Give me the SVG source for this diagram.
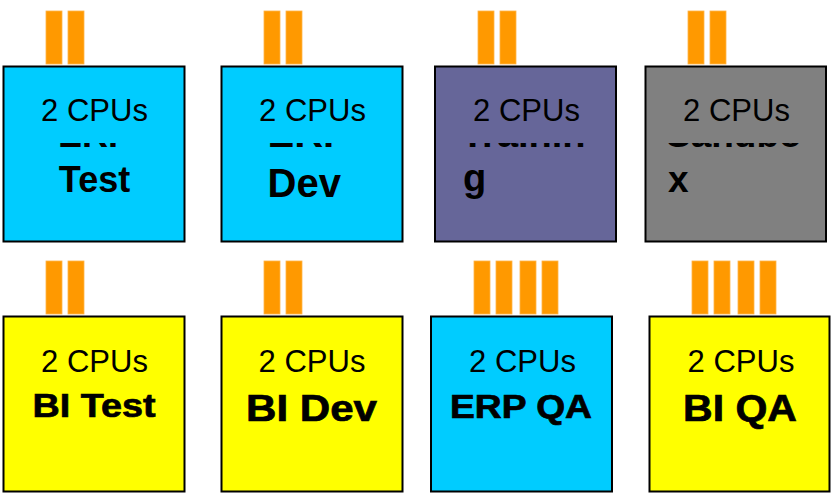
<svg xmlns="http://www.w3.org/2000/svg" width="836" height="498" viewBox="0 0 836 498">
<style>
.box{stroke:#000;stroke-width:2}
.cyan{fill:#00CCFF}
.purple{fill:#666699}
.gray{fill:#808080}
.yellow{fill:#FFFF00}
.cpu{fill:#FF9900;stroke:#FFB347;stroke-width:0.8}
.t{font-family:"Liberation Sans",Arial,sans-serif;font-size:31px;fill:#000;text-anchor:middle}
.b{font-family:"Liberation Sans",Arial,sans-serif;font-weight:bold;fill:#000}
.w{stroke:#000;stroke-width:0.7}
</style>
<defs>
<clipPath id="clipTop"><rect x="0" y="143" width="836" height="100"/></clipPath>
</defs>
<rect width="836" height="498" fill="#fff"/>
<g id="erp-test">
<rect class="cpu" x="46" y="11" width="16" height="53"/><rect class="cpu" x="68" y="11" width="16" height="53"/>
<rect class="box cyan" x="3.5" y="66.5" width="181" height="175"/>
<text class="t" x="94.5" y="121">2 CPUs</text>
<text class="b" x="95" y="147" font-size="36" text-anchor="middle" clip-path="url(#clipTop)">ERP</text>
<text class="b" x="94.5" y="192" font-size="36" text-anchor="middle">Test</text>
</g>
<g id="erp-dev">
<rect class="cpu" x="264" y="11" width="16" height="53"/><rect class="cpu" x="286" y="11" width="16" height="53"/>
<rect class="box cyan" x="221.5" y="66.5" width="181" height="175"/>
<text class="t" x="312.5" y="121">2 CPUs</text>
<text class="b" x="267.5" y="147" font-size="40" clip-path="url(#clipTop)">ERP</text>
<text class="b" x="267.5" y="197" font-size="40">Dev</text>
</g>
<g id="training">
<rect class="cpu" x="478" y="11" width="16" height="53"/><rect class="cpu" x="500" y="11" width="16" height="53"/>
<rect class="box purple" x="435" y="66.5" width="181" height="175"/>
<text class="t" x="526.5" y="121">2 CPUs</text>
<text class="b" x="461" y="147" font-size="38" clip-path="url(#clipTop)">Trainin</text>
<text class="b" x="463" y="191" font-size="38">g</text>
</g>
<g id="sandbox">
<rect class="cpu" x="688" y="11" width="16" height="53"/><rect class="cpu" x="710" y="11" width="16" height="53"/>
<rect class="box gray" x="645.5" y="66.5" width="180.5" height="175"/>
<text class="t" x="736.5" y="121">2 CPUs</text>
<text class="b" x="666" y="147" font-size="37" clip-path="url(#clipTop)">Sandbo</text>
<text class="b" x="668" y="192" font-size="37">x</text>
</g>
<g id="bi-test">
<rect class="cpu" x="46" y="261" width="16" height="53"/><rect class="cpu" x="68" y="261" width="16" height="53"/>
<rect class="box yellow" x="3.5" y="316.5" width="181" height="175"/>
<text class="t" x="94.5" y="372">2 CPUs</text>
<text class="b w" x="32.5" y="417" font-size="34" textLength="123" lengthAdjust="spacingAndGlyphs">BI Test</text>
</g>
<g id="bi-dev">
<rect class="cpu" x="264" y="261" width="16" height="53"/><rect class="cpu" x="286" y="261" width="16" height="53"/>
<rect class="box yellow" x="221.5" y="316.5" width="181" height="175"/>
<text class="t" x="312" y="372">2 CPUs</text>
<text class="b w" x="246" y="420.5" font-size="37" textLength="131" lengthAdjust="spacingAndGlyphs">BI Dev</text>
</g>
<g id="erp-qa">
<rect class="cpu" x="474" y="261" width="16" height="53"/><rect class="cpu" x="496" y="261" width="16" height="53"/><rect class="cpu" x="520" y="261" width="16" height="53"/><rect class="cpu" x="542" y="261" width="16" height="53"/>
<rect class="box cyan" x="431" y="316.5" width="181" height="175"/>
<text class="t" x="522.5" y="372">2 CPUs</text>
<text class="b w" x="450" y="418" font-size="32.5" textLength="142" lengthAdjust="spacingAndGlyphs">ERP QA</text>
</g>
<g id="bi-qa">
<rect class="cpu" x="692" y="261" width="16" height="53"/><rect class="cpu" x="714" y="261" width="16" height="53"/><rect class="cpu" x="738" y="261" width="16" height="53"/><rect class="cpu" x="760" y="261" width="16" height="53"/>
<rect class="box yellow" x="649.5" y="316.5" width="180" height="175"/>
<text class="t" x="741" y="372">2 CPUs</text>
<text class="b w" x="683" y="421" font-size="36.5" textLength="114" lengthAdjust="spacingAndGlyphs">BI QA</text>
</g>
<g id="connectors"></g>
</svg>
